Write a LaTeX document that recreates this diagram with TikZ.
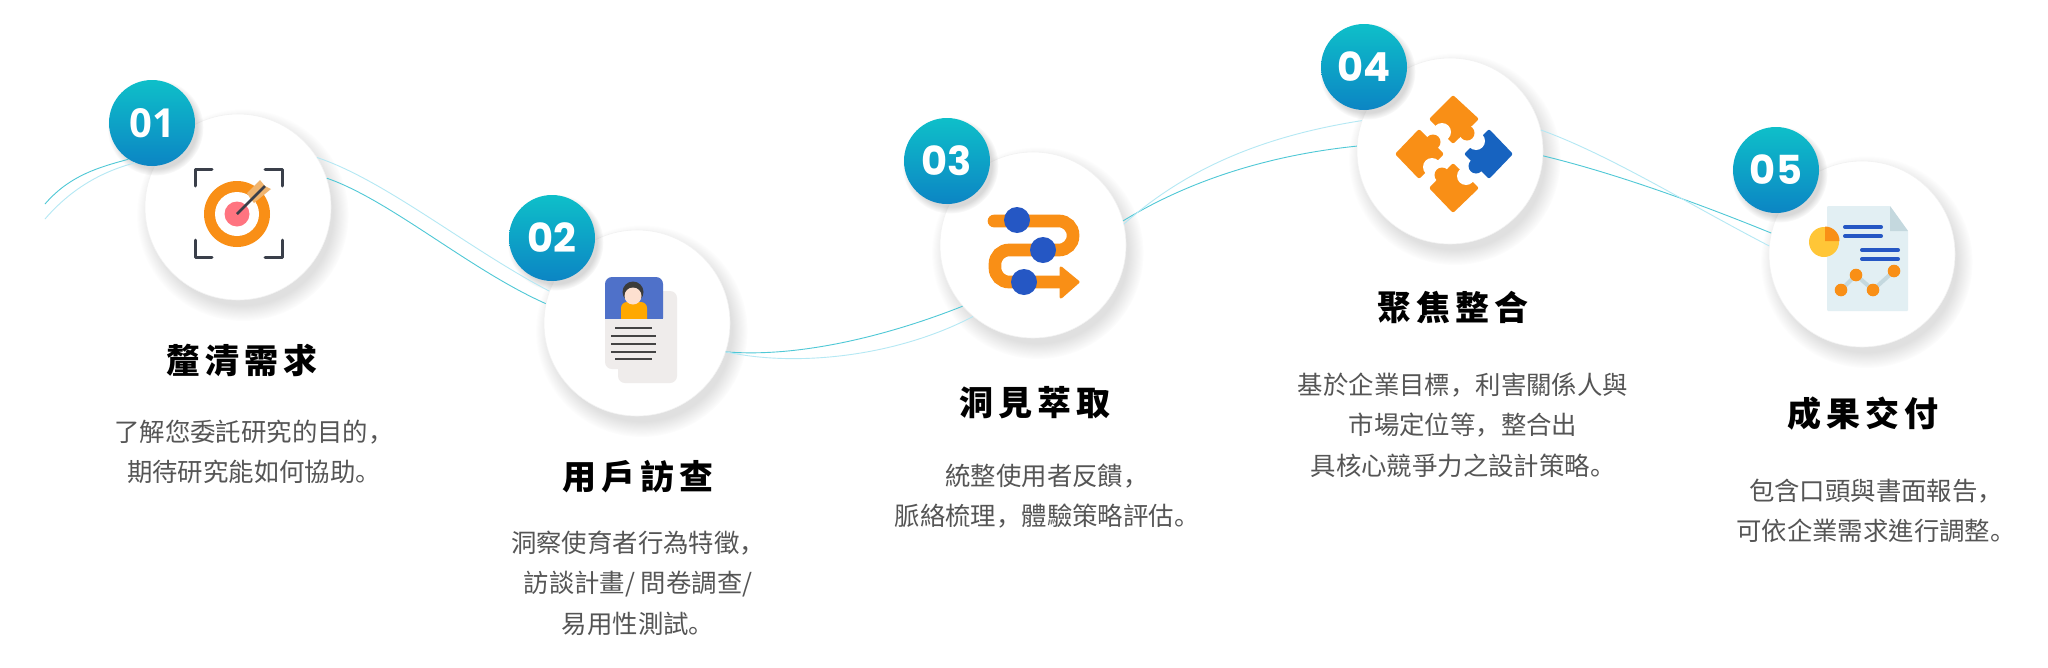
\documentclass[tikz,border=0pt]{standalone}
\usepackage{fontspec}
\usepackage{xcolor,tikz}
\usetikzlibrary{shadows,fadings}
\setmainfont{Noto Sans CJK TC}
\newfontfamily\numfont{Poppins}
\newfontfamily\titlefont[LetterSpace=14]{Noto Sans CJK TC}
\newfontfamily\puncfont{Noto Sans CJK SC}
\newcommand{\cmm}{{\puncfont ，}}
\newcommand{\stp}{{\puncfont 。}}
\definecolor{tealtop}{HTML}{0EBFC9}
\definecolor{tealbot}{HTML}{0C85C4}
\definecolor{wavedark}{HTML}{4FC8D6}
\definecolor{wavelight}{HTML}{B4E8F4}
\definecolor{iconorange}{HTML}{F98F16}
\definecolor{iconblue}{HTML}{2557C4}
\definecolor{icondark}{HTML}{3A3F4A}
\definecolor{bodygray}{HTML}{555555}
\definecolor{papergray}{HTML}{EFECEB}
\definecolor{paperblue}{HTML}{E2EFF3}
\definecolor{foldblue}{HTML}{C4D8DE}
\definecolor{targetpink}{HTML}{FF7480}
\definecolor{feathertan}{HTML}{F0B46E}
\definecolor{cardblue}{HTML}{4F71C9}
\definecolor{personamber}{HTML}{FFA800}
\definecolor{personhair}{HTML}{3B3B3B}
\definecolor{personskin}{HTML}{FDE0D0}
\definecolor{cardline}{HTML}{444444}
\definecolor{puzzleblue}{HTML}{1763C0}
\definecolor{pieyellow}{HTML}{FFC637}
\begin{document}
\begin{tikzpicture}[x=1pt,y=-1pt,inner sep=0pt,
stepcirc/.style={circle,minimum size=186pt,draw=black!5,line width=.6pt,fill=white,circular drop shadow={shadow xshift=4pt,shadow yshift=-7pt,shadow scale=1.14,opacity=.24}},
numcirc/.style={circle,minimum size=86pt,top color=tealtop,bottom color=tealbot,text=white,font=\numfont\fontsize{40}{40}\selectfont\bfseries,circular drop shadow={shadow xshift=3pt,shadow yshift=-4pt,shadow scale=1.12,opacity=.3}},
titlenode/.style={font=\titlefont\fontsize{34}{38}\selectfont\bfseries,text=black},
bodynode/.style={align=center,text=bodygray,font=\fontsize{25.4}{40.5}\selectfont},
wavea/.style={draw=wavedark,line width=.9pt},
waveb/.style={draw=wavelight,line width=.9pt}]
\useasboundingbox (0,0) rectangle (2048,667);
\fill[white] (0,0) rectangle (2048,667);
\coordinate (startd) at (45,204);
\coordinate (startl) at (45,219);
\node[stepcirc] (step1) at (238,207) {};
\node[stepcirc] (step2) at (637,323) {};
\node[stepcirc] (step3) at (1033,245) {};
\node[stepcirc] (step4) at (1450,151) {};
\node[stepcirc] (step5) at (1862,254) {};
\node[numcirc] (num1) at (152,123) {\fontspec{Open Sans}\bfseries 01};
\node[numcirc] (num2) at (552,238) {02};
\node[numcirc] (num3) at (947,161) {03};
\node[numcirc] (num4) at (1364,67) {04};
\node[numcirc] (num5) at (1776,170) {05};
\draw[wavea] (startd) .. controls (70,175) and (100,167) .. (num1.237);
\draw[waveb] (startl) .. controls (70,190) and (100,172) .. (num1.247);
\draw[wavea] (step1.18.6) .. controls (390,200) and (470,270) .. (step2.168);
\draw[waveb] (step1.32) .. controls (385,180) and (470,250) .. (step2.160);
\draw[wavea] (step2.-18) .. controls (800,358) and (890,335) .. (step3.221.5);
\draw[waveb] (step2.-18) .. controls (800,368) and (900,355) .. (step3.230);
\draw[wavea] (step3.15.5) .. controls (1190,180) and (1270,155) .. (step4.177);
\draw[waveb] (step3.13.5) .. controls (1190,165) and (1270,135) .. (step4.161);
\draw[wavea] (step4.-3) .. controls (1610,172) and (1690,200) .. (step5.167);
\draw[waveb] (step4.13.5) .. controls (1610,155) and (1690,205) .. (step5.175);
\node[titlenode] (title1) at (242,360) {釐清需求};
\node[bodynode] (body1) at (254,452) {了解您委託研究的目的\cmm\\期待研究能如何協助\stp};
\node[titlenode] (title2) at (638,477) {用戶訪查};
\node[bodynode] (body2) at (638,583) {洞察使育者行為特徵\cmm\\訪談計畫/ 問卷調查/\hspace{15pt}\\易用性測試\stp};
\node[titlenode] (title3) at (1035,403) {洞見萃取};
\node[bodynode] (body3) at (1047,496) {統整使用者反饋\cmm\\脈絡梳理\cmm 體驗策略評估\stp};
\node[titlenode] (title4) at (1453,308) {聚焦整合};
\node[bodynode] (body4) at (1463,425) {基於企業目標\cmm 利害關係人與\\市場定位等\cmm 整合出\\具核心競爭力之設計策略\stp};
\node[titlenode] (title5) at (1863,414) {成果交付};
\node[bodynode] (body5) at (1876,511) {包含口頭與書面報告\cmm\\可依企業需求進行調整\stp};
\draw[icondark,line width=3pt,line cap=round,line join=round] (195,186)--(195,169)--(212,169) (265,169)--(282,169)--(282,186) (195,240)--(195,257)--(212,257) (265,257)--(282,257)--(282,240);
\fill[iconorange] (237,214) circle (33);
\fill[white] (237,214) circle (22);
\fill[targetpink] (237,214) circle (12.5);
\fill[feathertan] (247,193)--(260,180)--(265,186)--(271,189)--(254,203)--(250,198)--cycle;
\draw[icondark,line width=2.5pt] (237,214)--(265,186);
\fill[papergray,rounded corners=7pt] (618,291) rectangle (677,383);
\fill[papergray,rounded corners=7pt] (605,300) rectangle (663,369);
\fill[cardblue,rounded corners=7pt] (605,325)--(605,277)--(663,277)--(663,325)--cycle;
\fill[personamber,rounded corners=6pt] (621,325)--(621,302)--(647,302)--(647,325)--cycle;
\fill[papergray] (605,319) rectangle (663,330);
\fill[personhair] (633,292) circle (10.5);
\fill[personskin] (633,296) circle (8.5);
\draw[cardline,line width=2pt] (615,328)--(652,328) (611,336)--(656,336) (611,344)--(656,344) (611,352)--(656,352) (615,359)--(652,359);
\draw[iconorange,line width=12.7pt,line cap=round,rounded corners=14pt] (994,221)--(1073,221)--(1073,250)--(995,250)--(995,282)--(1062,282);
\fill[iconorange,draw=iconorange,line width=3pt,line join=round] (1061,268)--(1078,282)--(1061,297)--cycle;
\fill[iconblue] (1017,220) circle (13);
\fill[iconblue] (1043,250) circle (13);
\fill[iconblue] (1024,282) circle (13);
\fill[iconorange,rounded corners=2pt] (1453,95)--(1479,119)--(1453,144)--(1429,119)--cycle;
\fill[iconorange,rounded corners=2pt] (1419,129)--(1444,154)--(1419,179)--(1395,154)--cycle;
\fill[iconorange,rounded corners=2pt] (1453,163)--(1479,188)--(1453,213)--(1429,188)--cycle;
\fill[puzzleblue,rounded corners=2pt] (1489,129)--(1513,154)--(1489,179)--(1464,154)--cycle;
\fill[white] (1442,132) circle (9) (1432,167) circle (9) (1466,176) circle (9) (1476,141) circle (9);
\fill[iconorange] (1467,133) circle (7.5) (1433,142) circle (7.5) (1442,175) circle (7.5);
\fill[puzzleblue] (1476,166) circle (7.5);
\fill[paperblue,rounded corners=1pt] (1827,206)--(1890,206)--(1908,231)--(1908,311)--(1827,311)--cycle;
\fill[foldblue] (1890,206)--(1908,231)--(1890,231)--cycle;
\fill[pieyellow] (1824,242) circle (15);
\fill[iconorange] (1825,241) -- ++(0,-14.5) arc (-90:0:14.5) -- cycle;
\draw[iconblue,line width=4pt,line cap=round] (1845,227)--(1881,227) (1845,236)--(1881,236) (1862,250)--(1898,250) (1862,259)--(1898,259);
\draw[foldblue,line width=4pt] (1841,290)--(1856,275)--(1873,290)--(1894,271);
\fill[iconorange] (1841,290) circle (6.3) (1856,275) circle (6.3) (1873,290) circle (6.3) (1894,271) circle (6.3);
\end{tikzpicture}
\end{document}
